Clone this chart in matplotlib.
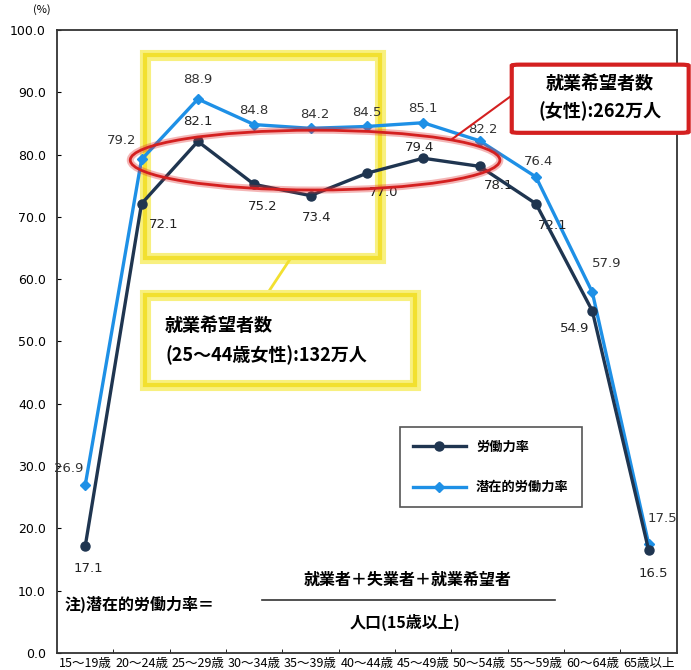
import matplotlib
matplotlib.use("Agg")
import matplotlib.pyplot as plt
from matplotlib.patches import Ellipse, Rectangle, FancyBboxPatch

plt.rcParams['font.family'] = ['Noto Sans CJK JP', 'DejaVu Sans']

# data
ages = ["15～19歳", "20～24歳", "25～29歳", "30～34歳", "35～39歳", "40～44歳",
        "45～49歳", "50～54歳", "55～59歳", "60～64歳", "65歳以上"]
labour = [17.1, 72.1, 82.1, 75.2, 73.4, 77.0, 79.4, 78.1, 72.1, 54.9, 16.5]
potential = [26.9, 79.2, 88.9, 84.8, 84.2, 84.5, 85.1, 82.2, 76.4, 57.9, 17.5]

# label offsets (points)
off_lab = [(2, -16), (16, -15), (0, 14), (6, -16), (4, -16), (12, -14),
           (-3, 8), (14, -14), (12, -16), (-13, -13), (3, -17)]
off_pot = [(-12, 12), (-14, 14), (0, 14), (0, 10), (3, 10), (0, 10),
           (0, 10), (2, 8), (2, 11), (10, 21), (10, 18)]

dark = "#1f3550"
light = "#1e90e6"

fig = plt.figure(figsize=(6.91, 6.70), dpi=100)
ax = fig.add_axes([0.0825, 0.0254, 0.897, 0.9300])

x = list(range(len(ages)))
ax.plot(x, potential, color=light, lw=2.4, marker="D", ms=5.5, label="潜在的労働力率", zorder=3)
ax.plot(x, labour, color=dark, lw=2.4, marker="o", ms=6.5, label="労働力率", zorder=4)

for i in x:
    ax.annotate(f"{labour[i]:.1f}", (i, labour[i]), xytext=off_lab[i], textcoords="offset points",
                ha="center", va="center", fontsize=9.5, color="#222222", family="DejaVu Sans")
    ax.annotate(f"{potential[i]:.1f}", (i, potential[i]), xytext=off_pot[i], textcoords="offset points",
                ha="center", va="center", fontsize=9.5, color="#333333", family="DejaVu Sans")

ax.set_xlim(-0.5, len(ages) - 0.5)
ax.set_ylim(0, 100)
ax.set_yticks(range(0, 101, 10))
ax.set_yticklabels([f"{v:.1f}" for v in range(0, 101, 10)], fontsize=9, family="DejaVu Sans")
ax.set_xticks(x)
ax.set_xticklabels(ages, fontsize=9)
ax.tick_params(axis="x", length=0, pad=3)
ax.set_xticks([i + 0.5 for i in x[:-1]], minor=True)
ax.tick_params(axis="x", which="minor", direction="in", length=3)
ax.tick_params(axis="y", direction="in", length=3, pad=8)
for s in ax.spines.values():
    s.set_color("#333333")
    s.set_linewidth(1.3)

# legend
handles, labels = ax.get_legend_handles_labels()
leg = ax.legend(handles[::-1], labels[::-1], loc="upper left", bbox_to_anchor=(0.542, 0.374),
                prop={"size": 9.5, "weight": "bold"}, handlelength=4, labelspacing=2.0,
                borderpad=1.0, fancybox=False, edgecolor="#555555", framealpha=1)
leg.get_frame().set_linewidth(1.2)

# red ellipse and box
ax.add_patch(Ellipse((4.08, 79.1), 6.56, 9.6, fill=False, ec="#e03030", lw=5, alpha=0.35, zorder=5))
ax.add_patch(Ellipse((4.08, 79.1), 6.56, 9.6, fill=False, ec="#d42020", lw=2, zorder=5))
ax.plot([6.5, 7.59], [82.4, 89.6], color="#d42020", lw=1.5, zorder=5)
red_box = FancyBboxPatch((7.59, 83.5), 3.1, 10.9, boxstyle="round,pad=0.02,rounding_size=0.15",
                         fc="white", ec="#d42020", lw=3, zorder=6, clip_on=False)
ax.add_patch(red_box)
ax.text(9.14, 91.4, "就業希望者数", ha="center", va="center", fontsize=13, weight="bold", zorder=7)
ax.text(9.14, 87.0, "(女性):262万人", ha="center", va="center", fontsize=13, weight="bold", zorder=7)

# yellow highlight and box
ax.add_patch(Rectangle((1.06, 63.4), 4.17, 32.6, fill=False, ec="#f8f080", lw=8, zorder=2))
ax.add_patch(Rectangle((1.06, 63.4), 4.17, 32.6, fill=False, ec="#f2e030", lw=3, zorder=2))
ax.plot([3.65, 3.22], [63.4, 57.5], color="#f2e030", lw=2, zorder=2)
ax.add_patch(Rectangle((1.06, 43.0), 4.79, 14.5, fc="white", ec="#f8f080", lw=8, zorder=2))
ax.add_patch(Rectangle((1.06, 43.0), 4.79, 14.5, fill=False, ec="#f2e030", lw=3, zorder=2))
ax.text(1.42, 52.5, "就業希望者数", ha="left", va="center", fontsize=13, weight="bold", zorder=7)
ax.text(1.42, 47.8, "(25～44歳女性):132万人", ha="left", va="center", fontsize=13, weight="bold", zorder=7)

# formula note
fig.text(65 / 691, 1 - 604 / 670, "注)潜在的労働力率＝", ha="left", va="center", fontsize=11.5, weight="bold")
fig.text(408 / 691, 1 - 580 / 670, "就業者＋失業者＋就業希望者", ha="center", va="center", fontsize=11.5, weight="bold")
fig.text(405 / 691, 1 - 622 / 670, "人口(15歳以上)", ha="center", va="center", fontsize=11.5, weight="bold")
fig.add_artist(plt.Line2D([262 / 691, 555 / 691], [1 - 600 / 670, 1 - 600 / 670], color="#333333", lw=1.2))

fig.text(0.06, 0.986, "(%)", ha="center", va="center", fontsize=8)

fig.savefig("out.png", dpi=100, facecolor="white")
